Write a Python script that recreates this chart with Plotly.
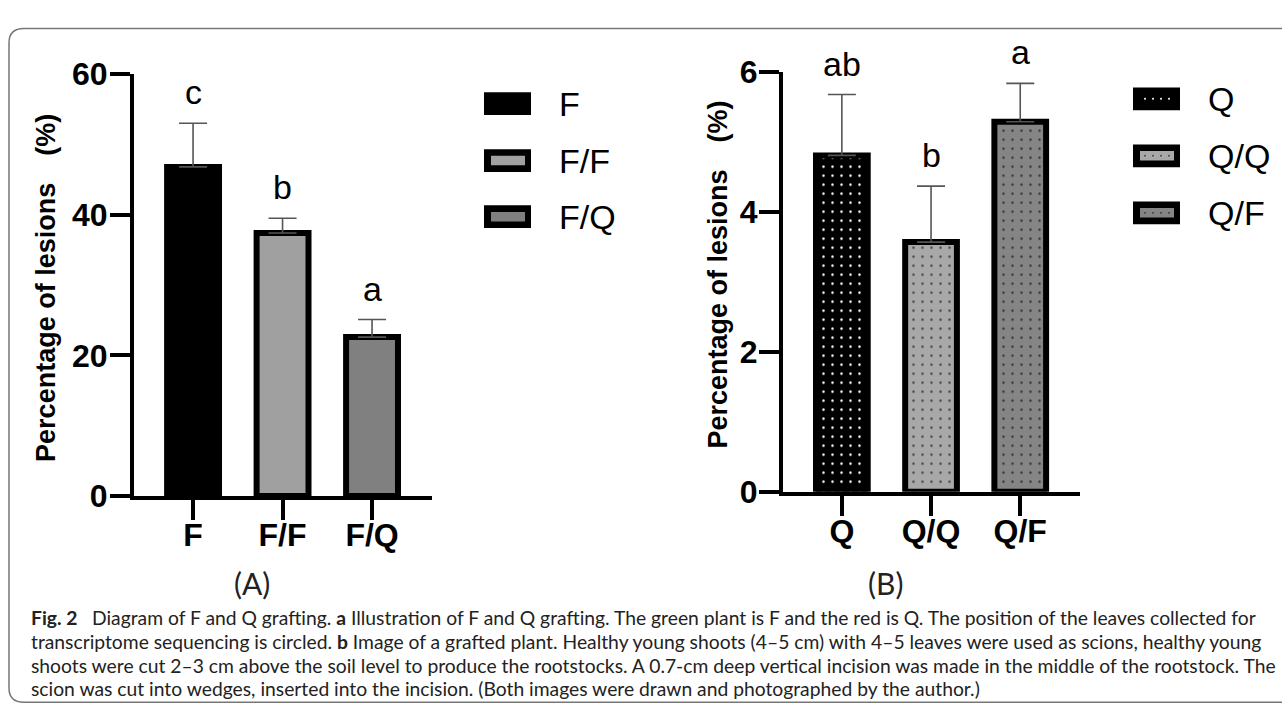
import plotly.graph_objects as go

# ---------------- data ----------------
cats_a = ["F", "F/F", "F/Q"]
vals_a = [46.8, 37.4, 22.6]
err_a = [6.2, 2.1, 2.5]
letters_a = ["c", "b", "a"]

cats_b = ["Q", "Q/Q", "Q/F"]
vals_b = [4.81, 3.57, 5.29]
err_b = [0.87, 0.80, 0.55]
letters_b = ["ab", "b", "a"]

yticks_a = [0, 20, 40, 60]
yticks_b = [0, 2, 4, 6]

panel_labels = ["(A)", "(B)"]
y_title = "Percentage of lesions\u2003(%)"

caption_lines = [
    "<b>Fig. 2</b>\u2002 Diagram of F and Q grafting. <b>a</b> Illustration of F and Q grafting. The green plant is F and the red is Q. The position of the leaves collected for",
    "transcriptome sequencing is circled. <b>b</b> Image of a grafted plant. Healthy young shoots (4–5 cm) with 4–5 leaves were used as scions, healthy young",
    "shoots were cut 2–3 cm above the soil level to produce the rootstocks. A 0.7-cm deep vertical incision was made in the middle of the rootstock. The",
    "scion was cut into wedges, inserted into the incision. (Both images were drawn and photographed by the author.)",
]

# ---------------- helpers ----------------
W, H = 1282, 726
def X(px):
    return px / W
def Y(py):
    return 1 - py / H

ARIAL = "Liberation Sans, Arial, sans-serif"
CAPF = "Lato, Noto Sans, sans-serif"

fill_a = ["#000000", "#a0a0a0", "#808080"]
bg_b = ["#000000", "#a8a8a8", "#858585"]
fg_b = ["#ffffff", "#4a4a4a", "#3a3a3a"]

fig = go.Figure()

fig.add_trace(go.Bar(
    x=cats_a, y=vals_a, width=0.58,
    marker=dict(color=fill_a, line=dict(color="black", width=6)),
    error_y=dict(type="data", array=err_a, arrayminus=[0] * 3, symmetric=False,
                 color="#555555", thickness=1.6, width=14),
    xaxis="x", yaxis="y", showlegend=False, cliponaxis=False,
))

for c, v, e, bg, fg in zip(cats_b, vals_b, err_b, bg_b, fg_b):
    fig.add_trace(go.Bar(
        x=[c], y=[v], width=0.58,
        marker=dict(color=bg, line=dict(color="black", width=6),
                    pattern=dict(shape=".", bgcolor=bg, fgcolor=fg,
                                 size=9, solidity=0.06, fillmode="replace")),
        error_y=dict(type="data", array=[e], arrayminus=[0], symmetric=False,
                     color="#555555", thickness=1.6, width=14),
        xaxis="x2", yaxis="y2", showlegend=False, cliponaxis=False,
    ))

axis_common = dict(
    showline=True, linecolor="black", linewidth=4,
    ticks="outside", ticklen=20, tickwidth=4, tickcolor="black",
    showgrid=False, zeroline=False,
    tickfont=dict(family=ARIAL, size=32, color="black", weight="bold"),
)

xr = [-0.66, 2.67]
fig.update_layout(
    width=W, height=H,
    margin=dict(l=0, r=0, t=0, b=0),
    paper_bgcolor="white", plot_bgcolor="white",
    barmode="overlay",
    xaxis=dict(domain=[X(134), X(432)], anchor="y", range=xr, ticklabelstandoff=-12,
               categoryorder="array", categoryarray=cats_a, **axis_common),
    yaxis=dict(domain=[Y(503), Y(59)], anchor="x", range=[0, 60], ticklabelstandoff=-4,
               tickvals=yticks_a, **axis_common),
    xaxis2=dict(domain=[X(783), X(1080)], anchor="y2", range=xr, ticklabelstandoff=-12,
                categoryorder="array", categoryarray=cats_b, **axis_common),
    yaxis2=dict(domain=[Y(498.5), Y(57)], anchor="x2", range=[0, 6], ticklabelstandoff=-5,
                tickvals=yticks_b, **axis_common),
    showlegend=False,
)

ann = []
# significance letters
for c, v, e, t in zip(cats_a, vals_a, err_a, letters_a):
    ann.append(dict(x=c, y=v + e, xref="x", yref="y", text=t, showarrow=False,
                    yanchor="bottom", yshift=10,
                    font=dict(family=ARIAL, size=34, color="black")))
for c, v, e, t in zip(cats_b, vals_b, err_b, letters_b):
    ann.append(dict(x=c, y=v + e, xref="x2", yref="y2", text=t, showarrow=False,
                    yanchor="bottom", yshift=10,
                    font=dict(family=ARIAL, size=34, color="black")))

# y axis titles
for xp, yp in [(46, 284), (718, 270)]:
    ann.append(dict(x=X(xp), y=Y(yp), xref="paper", yref="paper", text=y_title,
                    textangle=-90, showarrow=False, xanchor="center", yanchor="middle",
                    font=dict(family=ARIAL, size=27, color="black", weight="bold")))

# panel labels
for xp, t in zip([252, 885], panel_labels):
    ann.append(dict(x=X(xp), y=Y(595), xref="paper", yref="paper", text=t,
                    showarrow=False, xanchor="center", yanchor="middle",
                    font=dict(family=CAPF, size=30, color="#222222")))

# legends (manual keys)
shapes = []
leg_a = list(zip(cats_a, fill_a, [90, 150, 209]))
for name, col, yc in leg_a:
    shapes.append(dict(type="rect", xref="paper", yref="paper",
                       x0=X(484), x1=X(531), y0=Y(yc + 12), y1=Y(yc - 12),
                       fillcolor="black", line=dict(width=0)))
    if col != "#000000":
        shapes.append(dict(type="rect", xref="paper", yref="paper",
                           x0=X(491), x1=X(525), y0=Y(yc + 5), y1=Y(yc - 5),
                           fillcolor=col, line=dict(width=0)))
    ann.append(dict(x=X(557), y=Y(yc), xref="paper", yref="paper", text=name,
                    showarrow=False, xanchor="left", yanchor="middle",
                    font=dict(family=ARIAL, size=34, color="black")))

leg_b = list(zip(cats_b, bg_b, fg_b, [85, 145, 205]))
for name, bg, fg, yc in leg_b:
    shapes.append(dict(type="rect", xref="paper", yref="paper",
                       x0=X(1133), x1=X(1180), y0=Y(yc + 12), y1=Y(yc - 12),
                       fillcolor="black", line=dict(width=0)))
    if bg != "#000000":
        shapes.append(dict(type="rect", xref="paper", yref="paper",
                           x0=X(1140), x1=X(1174), y0=Y(yc + 5), y1=Y(yc - 5),
                           fillcolor=bg, line=dict(width=0)))
    for dx in [1145, 1153, 1161, 1169]:
        shapes.append(dict(type="circle", xref="paper", yref="paper",
                           x0=X(dx - 1), x1=X(dx + 1), y0=Y(yc + 1), y1=Y(yc - 1),
                           fillcolor=fg, line=dict(width=0)))
    ann.append(dict(x=X(1206), y=Y(yc), xref="paper", yref="paper", text=name,
                    showarrow=False, xanchor="left", yanchor="middle",
                    font=dict(family=ARIAL, size=34, color="black")))

# caption
for i, line in enumerate(caption_lines):
    ann.append(dict(x=X(29), y=Y(631 + 25 * i), xref="paper", yref="paper", text=line,
                    showarrow=False, xanchor="left", yanchor="middle", align="left",
                    font=dict(family=CAPF, size=19.3, color="#222222")))

# rounded frame
x0, y0, x1, y1, r = X(9), Y(11), X(1300), Y(720), 15
path = (f"M {x1},{y0} L {X(9 + r)},{y0} Q {x0},{y0} {x0},{Y(11 + r)} "
        f"L {x0},{Y(720 - r)} Q {x0},{y1} {X(9 + r)},{y1} L {x1},{y1}")
shapes.append(dict(type="path", xref="paper", yref="paper", path=path,
                   line=dict(color="#777777", width=1.5)))

fig.update_layout(annotations=ann, shapes=shapes)
fig.write_html("out.html")
